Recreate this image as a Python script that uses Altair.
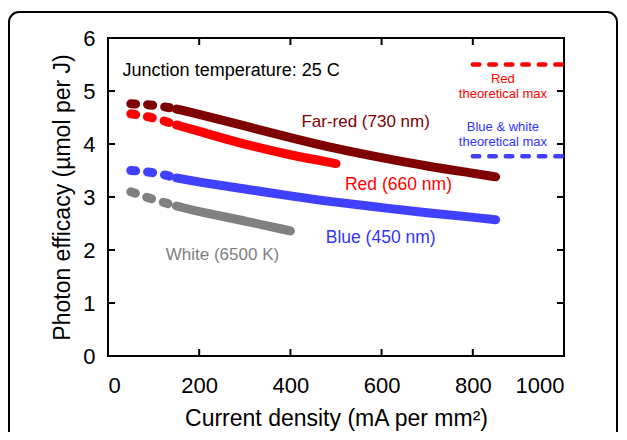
import altair as alt
import pandas as pd

# ---- data ----
fr_x = [50, 100, 150, 200, 300, 400, 500, 600, 700, 800, 850]
fr_y = [4.76, 4.74, 4.66, 4.56, 4.34, 4.12, 3.91, 3.74, 3.58, 3.45, 3.38]
red_x = [50, 100, 150, 200, 300, 400, 500]
red_y = [4.57, 4.50, 4.36, 4.24, 3.99, 3.79, 3.63]
blue_x = [50, 100, 150, 200, 300, 400, 500, 600, 700, 800, 850]
blue_y = [3.50, 3.47, 3.36, 3.28, 3.15, 3.02, 2.90, 2.80, 2.70, 2.62, 2.57]
white_x = [50, 100, 150, 200, 300, 400]
white_y = [3.10, 2.95, 2.83, 2.72, 2.55, 2.36]
dash_end = 150  # measured part shown dashed up to here

series_names = ["Far-red", "Red", "Blue", "White"]
series_colors = ["#7F0000", "#FF0000", "#4040FF", "#808080"]

theo_names = ["Red max", "Blue max"]
theo_x = [800, 1000]
theo_y = [5.5, 3.77]
theo_colors = ["#FF0000", "#4040FF"]

x_ticks = [200, 400, 600, 800]
y_ticks = [1, 2, 3, 4, 5]
x_labels = [0, 200, 400, 600, 800, 1000]
y_labels = [0, 1, 2, 3, 4, 5, 6]

# ---- tables ----
rows = []
for name, xs_, ys_ in zip(series_names, [fr_x, red_x, blue_x, white_x],
                          [fr_y, red_y, blue_y, white_y]):
    for x, y in zip(xs_, ys_):
        if x <= dash_end:
            rows.append({"s": name, "x": x, "y": y, "part": "dash"})
        if x >= dash_end:
            rows.append({"s": name, "x": x, "y": y, "part": "solid"})
df = pd.DataFrame(rows)

trows = []
for name, yv in zip(theo_names, theo_y):
    for xv in theo_x:
        trows.append({"s": name, "x": xv, "y": yv})
tdf = pd.DataFrame(trows)

W, H = 456, 318
FONT = "Liberation Sans"

xs = alt.Scale(domain=[0, 1000], nice=False, zero=False)
ys = alt.Scale(domain=[0, 6], nice=False, zero=False)
xaxis = alt.Axis(values=x_labels, ticks=False, domain=False, grid=False,
                 labelFontSize=22, labelPadding=19, labelFont=FONT,
                 labelColor="black", title="Current density (mA per mm²)",
                 titleFontSize=23, titleFont=FONT, titleFontWeight="normal",
                 titleColor="black", titlePadding=11, format="d")
yaxis = alt.Axis(values=y_labels, ticks=False, domain=False, grid=False,
                 labelFontSize=22, labelPadding=13, labelFont=FONT,
                 labelColor="black", title="Photon efficacy (µmol per J)",
                 titleFontSize=23, titleFont=FONT, titleFontWeight="normal",
                 titleColor="black", titlePadding=8, format="d")

X = alt.X("x:Q", scale=xs, axis=xaxis)
Y = alt.Y("y:Q", scale=ys, axis=yaxis)
C = alt.Color("s:N", scale=alt.Scale(domain=series_names + theo_names,
                                     range=series_colors + theo_colors),
              legend=None)

base = alt.Chart(df)
dashed = base.mark_line(strokeWidth=9, strokeCap="round", strokeDash=[5, 12],
                        interpolate="basis").encode(
    x=X, y=Y, color=C, detail="s:N").transform_filter(alt.datum.part == "dash")
solid = base.mark_line(strokeWidth=9, strokeCap="round",
                       interpolate="basis").encode(
    x=X, y=Y, color=C, detail="s:N").transform_filter(alt.datum.part == "solid")

theo = alt.Chart(tdf).mark_line(strokeWidth=4.5, strokeCap="round",
                                strokeDash=[6.5, 10]).encode(
    x=X, y=Y, color=C, detail="s:N")

# inward ticks on all four sides
xt = pd.DataFrame({"x": x_ticks})
yt = pd.DataFrame({"y": y_ticks})
tick_b = alt.Chart(xt).mark_rule(strokeWidth=2, color="black").encode(
    x=X, y=alt.value(H), y2=alt.value(H - 7))
tick_t = alt.Chart(xt).mark_rule(strokeWidth=2, color="black").encode(
    x=X, y=alt.value(0), y2=alt.value(7))
tick_l = alt.Chart(yt).mark_rule(strokeWidth=2, color="black").encode(
    y=Y, x=alt.value(0), x2=alt.value(7))
tick_r = alt.Chart(yt).mark_rule(strokeWidth=2, color="black").encode(
    y=Y, x=alt.value(W), x2=alt.value(W - 7))


def label(text, x, y, color, size, align="center"):
    return alt.Chart(pd.DataFrame({"t": [text]})).mark_text(
        font=FONT, fontSize=size, color=color, align=align,
        baseline="middle").encode(x=alt.datum(x, scale=xs),
                                  y=alt.datum(y, scale=ys), text="t:N")


labels = [
    label("Junction temperature: 25 C", 32, 5.38, "black", 18, "left"),
    label("Red", 866, 5.23, "#FF0000", 13),
    label("theoretical max", 866, 4.94, "#FF0000", 13),
    label("Blue & white", 866, 4.33, "#3333FF", 13),
    label("theoretical max", 866, 4.04, "#3333FF", 13),
    label("Far-red (730 nm)", 565, 4.42, "#7F0000", 17),
    label("Red (660 nm)", 637, 3.22, "#FF0000", 17.5),
    label("Blue (450 nm)", 598, 2.22, "#3333FF", 17.5),
    label("White (6500 K)", 251, 1.90, "#808080", 17),
]

frame = alt.Chart(pd.DataFrame({"a": [0]})).mark_rect(
    fill="transparent", stroke="black", strokeWidth=2, cornerRadius=10).encode(
    x=alt.value(-99), x2=alt.value(509), y=alt.value(-26), y2=alt.value(412))

chart = alt.layer(frame, dashed, solid, theo, tick_b, tick_t, tick_l, tick_r,
                  *labels).properties(
    width=W, height=H,
    autosize=alt.AutoSizeParams(type="none"),
    padding={"left": 100, "top": 30, "right": 55, "bottom": 76},
    background="white",
).configure_view(stroke="black", strokeWidth=2)

chart.save("out.html", embed_options={"renderer": "svg", "actions": False})
